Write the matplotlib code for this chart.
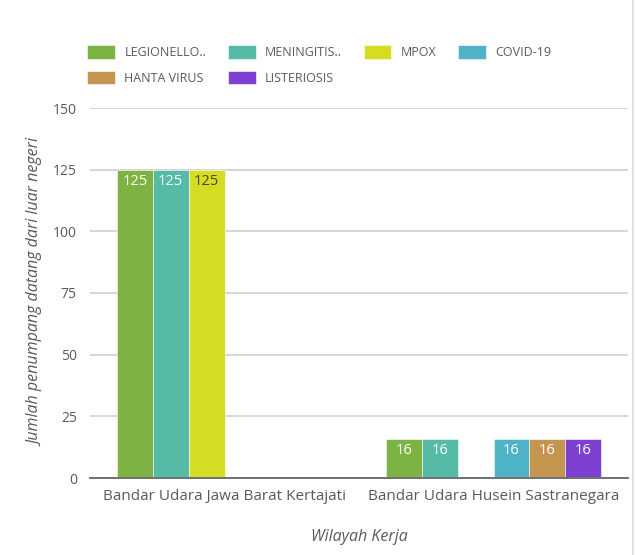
import numpy as np
import matplotlib
matplotlib.use('Agg')
import matplotlib.pyplot as plt
from matplotlib.lines import Line2D

# kategori wilayah kerja dan jumlah penumpang per penyakit
wilayah = ['Bandar Udara Jawa Barat Kertajati', 'Bandar Udara Husein Sastranegara']
penyakit = ['LEGIONELLO..', 'MENINGITIS..', 'MPOX', 'COVID-19', 'HANTA VIRUS', 'LISTERIOSIS']
legionello = [125, 16]
meningitis = [125, 16]
mpox = [125, 0]
covid = [0, 16]
hanta = [0, 16]
listeriosis = [0, 16]
yticks = [0, 25, 50, 75, 100, 125, 150]

warna = ['#7cb342', '#55bba6', '#d4dd22', '#4fb3c8', '#c4954f', '#7e40d0']
warna_label = ['white', 'white', '#4a4a20', 'white', 'white', 'white']

plt.rcParams['font.family'] = ['Open Sans', 'DejaVu Sans']
teks = '#5a5a5a'

fig = plt.figure(figsize=(6.35, 5.55), dpi=100)
ax = fig.add_axes([90/635, 1-478/555, 538/635, 370/555])

data = [legionello, meningitis, mpox, covid, hanta, listeriosis]
x = np.arange(len(wilayah))
w = 0.8/len(penyakit)
handles = []
for i, (nama, nilai) in enumerate(zip(penyakit, data)):
    pos = x - 0.4 + w*(i+0.5)
    b = ax.bar(pos, nilai, w, color=warna[i], label=nama, edgecolor='white', linewidth=0.4, zorder=3)
    handles.append(b)
    for p, v in zip(pos, nilai):
        if v > 0:
            ax.annotate(str(v), (p, v), xytext=(0, -12), textcoords='offset pixels',
                        ha='center', va='center', fontsize=10.5, color=warna_label[i], zorder=4)

ax.set_xlim(-0.5, 1.5)
ax.set_ylim(0, 150)
ax.set_yticks(yticks)
ax.set_xticks(x)
ax.set_xticklabels(wilayah)
ax.tick_params(axis='both', length=0, colors=teks)
ax.tick_params(axis='y', pad=9.5, labelsize=10)
ax.tick_params(axis='x', pad=8, labelsize=11)
ax.grid(axis='y', color='#d6d6d6', linewidth=1.4, zorder=0)
for s in ['top', 'right', 'left']:
    ax.spines[s].set_visible(False)
ax.spines['bottom'].set_color('#707070')
ax.spines['bottom'].set_linewidth(1.4)
ax.spines['bottom'].set_zorder(5)

ax.set_ylabel('Jumlah penumpang datang dari luar negeri', fontstyle='italic', fontsize=11.5, color=teks, labelpad=6)
ax.set_xlabel('Wilayah Kerja', fontstyle='italic', fontsize=11.5, color=teks, labelpad=18)

# legenda diisi per baris: urutan ulang karena matplotlib mengisi per kolom
urut = [0, 4, 1, 5, 2, 3]
ax.legend([handles[k] for k in urut], [penyakit[k] for k in urut],
          loc='lower left', bbox_to_anchor=(-0.014, 1.049), ncol=4, frameon=False,
          fontsize=9, labelcolor=teks, handlelength=2.2, handleheight=1.3,
          columnspacing=1.75, handletextpad=0.75, labelspacing=0.95, borderaxespad=0)

# garis batas kanan
fig.add_artist(Line2D([633/635, 633/635], [0, 1], color='#dcdcdc', linewidth=1.2))

fig.savefig('out.png', dpi=100)
